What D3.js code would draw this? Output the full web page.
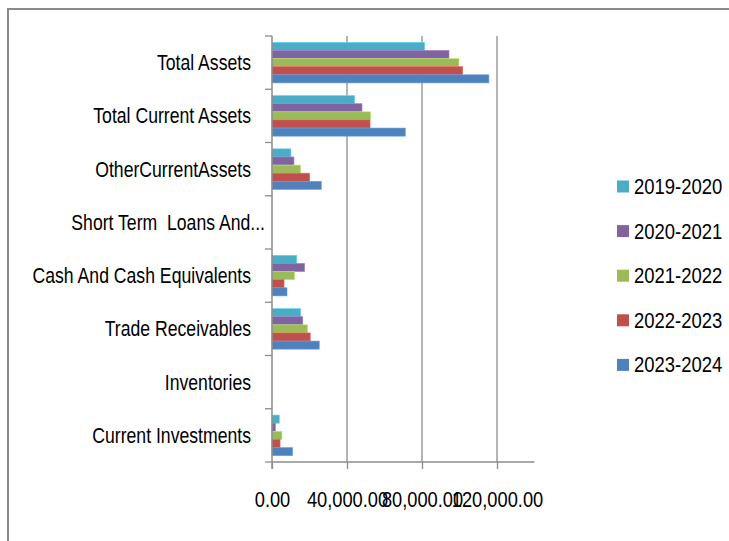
<!DOCTYPE html>
<html>
<head>
<meta charset="utf-8">
<script src="https://cdn.jsdelivr.net/npm/d3@7"></script>
<style>
  html, body { margin: 0; padding: 0; background: #fff; }
  svg { display: block; }
  text { font-family: "Liberation Sans", Arial, sans-serif; fill: #000; }
</style>
</head>
<body>
<div id="chart"></div>
<script>
// categories, top to bottom
var categories = [
  "Total Assets",
  "Total Current Assets",
  "OtherCurrentAssets",
  "Short Term  Loans And...",
  "Cash And Cash Equivalents",
  "Trade Receivables",
  "Inventories",
  "Current Investments"
];

var years = ["2019-2020", "2020-2021", "2021-2022", "2022-2023", "2023-2024"];

// one array per year, in category order
var v2019 = [81400, 44100, 10100, 0, 13200, 15300, 0, 3900];
var v2020 = [94400, 48000, 11700, 0, 17400, 16400, 0, 1800];
var v2021 = [99700, 52600, 15300, 0, 12100, 19000, 0, 5300];
var v2022 = [101700, 52300, 20100, 0, 6400, 20400, 0, 4300];
var v2023 = [115700, 71100, 26300, 0, 8000, 25200, 0, 11000];

var xTicks = [0, 40000, 80000, 120000];
var colors = ["#4BACC6", "#8064A2", "#9BBB59", "#C0504D", "#4F81BD"];

var seriesValues = [v2019, v2020, v2021, v2022, v2023];

var W = 729, H = 541;
var plotLeft = 272, plotRight = 534.5, plotTop = 36, plotBottom = 462;
// horizontal squeeze to get the narrow look of the original font
var squeezeCat = 0.82, squeezeTick = 0.85, squeezeLegend = 0.86;
var fontSize = "21.5px";

var svg = d3.select("#chart").append("svg")
    .attr("width", W)
    .attr("height", H);

// outer frame
svg.append("rect")
    .attr("x", 8).attr("y", 9)
    .attr("width", 800).attr("height", 700)
    .attr("fill", "#fff")
    .attr("stroke", "#8a8a8a")
    .attr("stroke-width", 2);

var x = d3.scaleLinear().domain([0, 140000]).range([plotLeft, plotRight]);
var y0 = d3.scaleBand().domain(categories).range([plotTop, plotBottom]);
var pad = y0.bandwidth() * 0.119;
var y1 = d3.scaleBand().domain(years).range([pad, y0.bandwidth() - pad]);

var color = d3.scaleOrdinal().domain(years).range(colors);

// gridlines
svg.append("g").selectAll("line")
    .data(xTicks.slice(1))
    .enter().append("line")
    .attr("x1", function(d) { return x(d); })
    .attr("x2", function(d) { return x(d); })
    .attr("y1", plotTop)
    .attr("y2", plotBottom)
    .attr("stroke", "#8c8c8c")
    .attr("stroke-width", 1.3);

// bars
var rows = categories.map(function(c, i) {
  return { cat: c, vals: years.map(function(yr, j) { return { year: yr, value: seriesValues[j][i] }; }) };
});

var group = svg.append("g").selectAll("g")
    .data(rows)
    .enter().append("g")
    .attr("transform", function(d) { return "translate(0," + y0(d.cat) + ")"; });

group.selectAll("rect")
    .data(function(d) { return d.vals.filter(function(v) { return v.value > 0; }); })
    .enter().append("rect")
    .attr("x", x(0))
    .attr("y", function(d) { return y1(d.year); })
    .attr("width", function(d) { return x(d.value) - x(0); })
    .attr("height", y1.bandwidth())
    .attr("fill", function(d) { return color(d.year); })
    .attr("stroke", function(d) { return d3.color(color(d.year)).brighter(0.6); })
    .attr("stroke-width", 0.6);

// x axis
var xAxis = d3.axisBottom(x)
    .tickValues(xTicks)
    .tickSize(7)
    .tickFormat(d3.format(",.2f"));

var gx = svg.append("g")
    .attr("transform", "translate(0," + plotBottom + ")")
    .call(xAxis);
gx.attr("font-family", null).attr("font-size", null);
gx.select(".domain").attr("stroke", "#8c8c8c").attr("stroke-width", 1.5)
    .attr("d", "M" + plotLeft + ",0H" + plotRight);
gx.selectAll(".tick line").attr("stroke", "#8c8c8c").attr("stroke-width", 1.3);
gx.selectAll(".tick text")
    .attr("y", null)
    .attr("transform", "translate(0,37) scale(" + squeezeTick + ",1)")
    .attr("dy", "0.35em")
    .attr("fill", "#000")
    .style("font-size", fontSize);

// y axis line and category ticks
svg.append("line")
    .attr("x1", plotLeft).attr("x2", plotLeft)
    .attr("y1", plotTop).attr("y2", plotBottom + 7)
    .attr("stroke", "#8c8c8c").attr("stroke-width", 1.5);

var bounds = categories.map(function(c) { return y0(c); }).concat([plotBottom]);
svg.append("g").selectAll("line")
    .data(bounds)
    .enter().append("line")
    .attr("x1", plotLeft - 7).attr("x2", plotLeft)
    .attr("y1", function(d) { return d; })
    .attr("y2", function(d) { return d; })
    .attr("stroke", "#8c8c8c").attr("stroke-width", 1.3);

svg.append("g").selectAll("text")
    .data(categories)
    .enter().append("text")
    .attr("transform", function(d) {
      var lx = /\.\.\.$/.test(d) ? 265 : 251;
      return "translate(" + lx + "," + (y0(d) + y0.bandwidth() / 2) + ") scale(" + squeezeCat + ",1)";
    })
    .attr("dy", "0.35em")
    .attr("text-anchor", "end")
    .style("white-space", "pre")
    .style("font-size", fontSize)
    .text(function(d) { return d; });

// legend
var legend = svg.append("g").selectAll("g")
    .data(years)
    .enter().append("g")
    .attr("transform", function(d, i) { return "translate(617," + (186.5 + i * 44.6) + ")"; });

legend.append("rect")
    .attr("x", 0).attr("y", -6)
    .attr("width", 12).attr("height", 12)
    .attr("fill", function(d) { return color(d); });

legend.append("text")
    .attr("transform", "translate(17,0) scale(" + squeezeLegend + ",1)")
    .attr("dy", "0.35em")
    .style("font-size", fontSize)
    .text(function(d) { return d; });
</script>
</body>
</html>
